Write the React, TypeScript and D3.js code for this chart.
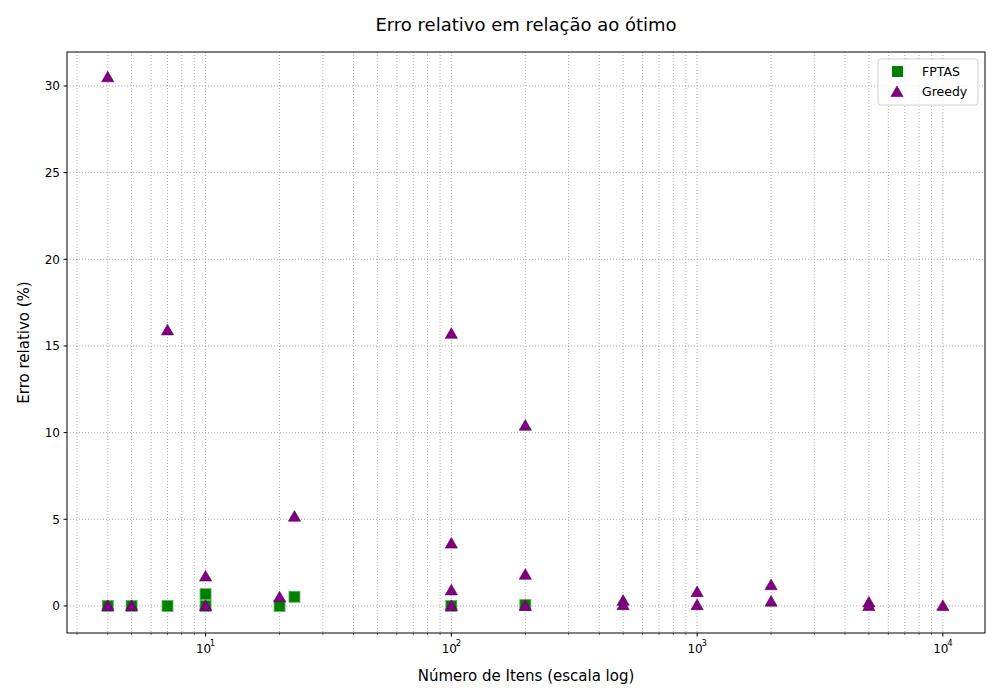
import * as React from 'react';
import * as d3 from 'd3';

const fptasN = [4, 5, 7, 10, 10, 20, 23, 100, 200];
const fptasErr = [0, 0, 0, 0.68, 0, 0, 0.53, 0, 0.05];
const greedyN = [4, 4, 5, 7, 10, 10, 20, 23, 100, 100, 100, 100, 200, 200, 200, 500, 500, 1000, 1000, 2000, 2000, 5000, 5000, 10000];
const greedyErr = [30.5, 0, 0, 15.9, 1.7, 0, 0.5, 5.15, 15.7, 3.6, 0.9, 0, 10.4, 1.8, 0, 0.3, 0.05, 0.8, 0.05, 1.2, 0.25, 0.2, 0, 0];
const yTicks = [0, 5, 10, 15, 20, 25, 30];
const xMajor = [10, 100, 1000, 10000];

export default function App() {
  const W = 1000, H = 700;
  const L = 67, R = 985, T = 52, B = 633;
  const x = d3.scaleLog().domain([2.73, 14840]).range([L, R]);
  const y = d3.scaleLinear().domain([-1.56, 31.96]).range([B, T]);
  const minor: number[] = [];
  for (let e = 0; e <= 4; e++) for (let k = 2; k <= 9; k++) {
    const v = k * Math.pow(10, e);
    if (v > 2.73 && v < 14840) minor.push(v);
  }
  const tri = d3.symbol().type(d3.symbolTriangle).size(65)();
  const font = 'DejaVu Sans, sans-serif';
  const grid = { stroke: '#a8a8a8', strokeWidth: 0.9, strokeDasharray: '1,2' };
  return (
    <svg width={W} height={H} style={{ position: 'absolute', left: 0, top: 0, fontFamily: font }}>
      <rect width={W} height={H} fill="white" />
      {[...minor, ...xMajor].map((v, i) => (
        <line key={'gx' + i} x1={x(v)} x2={x(v)} y1={T} y2={B} {...grid} />
      ))}
      {yTicks.map(v => (
        <line key={'gy' + v} x1={L} x2={R} y1={y(v)} y2={y(v)} {...grid} />
      ))}
      {fptasN.map((n, i) => (
        <rect key={'f' + i} x={x(n) - 5.5} y={y(fptasErr[i]) - 5.5} width={11} height={11} fill="green" stroke="#5fae5f" strokeWidth={0.8} />
      ))}
      {greedyN.map((n, i) => (
        <path key={'g' + i} d={tri!} transform={`translate(${x(n)},${y(greedyErr[i]) + 1})`} fill="purple" stroke="#5a005a" strokeWidth={0.6} />
      ))}
      <rect x={L} y={T} width={R - L} height={B - T} fill="none" stroke="black" strokeWidth={1} />
      {minor.map((v, i) => (
        <line key={'mt' + i} x1={x(v)} x2={x(v)} y1={B} y2={B + 2} stroke="black" strokeWidth={0.6} />
      ))}
      {xMajor.map(v => (
        <g key={'xt' + v}>
          <line x1={x(v)} x2={x(v)} y1={B} y2={B + 3.5} stroke="black" />
          <text x={x(v) - 2} y={B + 20} fontSize={12} textAnchor="middle">10</text>
          <text x={x(v) + 7} y={B + 13} fontSize={8.5} textAnchor="middle">{Math.log10(v)}</text>
        </g>
      ))}
      {yTicks.map(v => (
        <g key={'yt' + v}>
          <line x1={L - 3.5} x2={L} y1={y(v)} y2={y(v)} stroke="black" />
          <text x={L - 7} y={y(v) + 4.5} fontSize={12} textAnchor="end">{v}</text>
        </g>
      ))}
      <text x={(L + R) / 2} y={31} fontSize={18} textAnchor="middle">Erro relativo em relação ao ótimo</text>
      <text x={(L + R) / 2} y={681} fontSize={15} textAnchor="middle">Número de Itens (escala log)</text>
      <text transform={`translate(29,${(T + B) / 2}) rotate(-90)`} fontSize={15} textAnchor="middle">Erro relativo (%)</text>
      <g>
        <rect x={878} y={59} width={100} height={46} rx={3} fill="white" fillOpacity={0.8} stroke="#d0d0d0" />
        <rect x={892} y={66} width={11} height={11} fill="green" />
        <text x={922} y={76} fontSize={12.5}>FPTAS</text>
        <path d={tri!} transform="translate(897,93)" fill="purple" stroke="#5a005a" strokeWidth={0.6} />
        <text x={922} y={96} fontSize={12.5}>Greedy</text>
      </g>
    </svg>
  );
}
